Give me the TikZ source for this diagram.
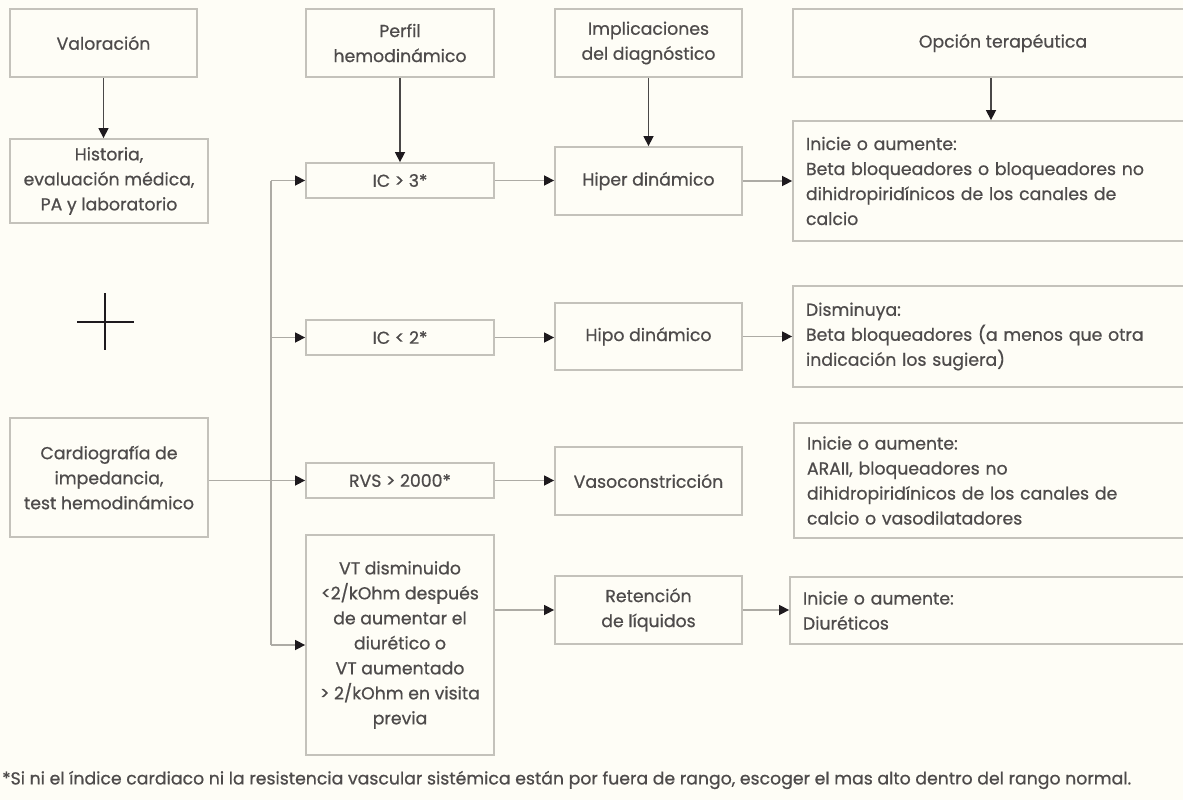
\documentclass[tikz,border=0pt]{standalone}
\usepackage{fontspec}
\setmainfont{Poppins}[FakeBold=0.7]
\usetikzlibrary{arrows.meta}
\definecolor{bgc}{HTML}{FEFDF6}
\definecolor{boxc}{HTML}{C4C2BB}
\definecolor{linec}{HTML}{ADABA5}
\definecolor{darkl}{HTML}{4A4848}
\definecolor{tipc}{HTML}{1E1A1E}
\definecolor{txtc}{HTML}{4E4B4B}
\tikzset{
  every node/.style={font=\fontsize{17.3}{25}\selectfont, text=txtc},
  box/.style={draw=boxc, line width=1.8pt, align=center, inner sep=0pt},
  tbox/.style={draw=boxc, line width=1.8pt, align=left, inner xsep=13pt, inner ysep=0pt, minimum width=420pt, text width=394pt},
  conn/.style={draw=linec, line width=1.5pt},
  arr/.style={draw=linec, line width=1.5pt, -{Triangle[length=10pt,width=10pt,color=tipc]}},
  darr/.style={draw=darkl, line width=1.5pt, -{Triangle[length=10pt,width=10pt,color=tipc]}},
}
\begin{document}
\begin{tikzpicture}[x=1pt,y=-1pt]
\fill[bgc] (0,0) rectangle (1183,800);
\useasboundingbox (0,0) rectangle (1183,800);
\clip (0,0) rectangle (1183,800);
% column 1
\node[box, minimum width=187pt, minimum height=68pt] (val) at (103.5,43) {Valoración};
\node[box, minimum width=198pt, minimum height=84pt] (hist) at (109,181) {Historia,\\evaluación médica,\\PA y laboratorio};
\node[box, minimum width=198pt, minimum height=119pt] (card) at (109,477.5) {Cardiografía de\\impedancia,\\test hemodinámico};
% column 2
\node[box, minimum width=188pt, minimum height=68pt] (perf) at (400,43) {Perfil\\hemodinámico};
\node[box, minimum width=188pt, minimum height=35pt] (ic3) at (400,180.5) {IC > 3*};
\node[box, minimum width=188pt, minimum height=35pt] (ic2) at (400,337.5) {IC < 2*};
\node[box, minimum width=188pt, minimum height=35pt] (rvs) at (400,480.5) {RVS > 2000*};
\node[box, minimum width=188pt, minimum height=220pt] (vt) at (400,645) {VT disminuido\\<2/kOhm después\\de aumentar el\\diurético o\\VT aumentado\\> 2/kOhm en visita\\previa};
% column 3
\node[box, minimum width=187pt, minimum height=68pt] (impl) at (648.5,43) {Implicaciones\\del diagnóstico};
\node[box, minimum width=187pt, minimum height=68pt] (hiper) at (648.5,181) {Hiper dinámico};
\node[box, minimum width=187pt, minimum height=67pt] (hipo) at (648.5,336.5) {Hipo dinámico};
\node[box, minimum width=187pt, minimum height=68pt] (vaso) at (648.5,481) {Vasoconstricción};
\node[box, minimum width=187pt, minimum height=68pt] (ret) at (648.5,610) {Retención\\de líquidos};
% column 4
\node[box, minimum width=420pt, minimum height=68pt] (opc) at (1003,43) {Opción terapéutica};
\node[tbox, minimum height=120pt] (t1) at (1003,181) {Inicie o aumente:\\Beta bloqueadores o bloqueadores no\\dihidropiridínicos de los canales de\\calcio};
\node[tbox, minimum height=101pt] (t2) at (1003,336.5) {Disminuya:\\Beta bloqueadores (a menos que otra\\indicación los sugiera)};
\node[tbox, minimum height=115pt] (t3) at (1004,480.5) {Inicie o aumente:\\ARAII, bloqueadores no\\dihidropiridínicos de los canales de\\calcio o vasodilatadores};
\node[tbox, minimum height=67pt] (t4) at (1000,610.5) {Inicie o aumente:\\Diuréticos};
% plus sign
\draw[draw=tipc, line width=2.6pt] (77,322) -- (134,322);
\draw[draw=tipc, line width=2.6pt] (105,293) -- (105,350);
% footnote
\node[anchor=west, inner sep=0pt] (foot) at (2,780) {*Si ni el índice cardiaco ni la resistencia vascular sistémica están por fuera de rango, escoger el mas alto dentro del rango normal.};
% vertical arrows from headers
\draw[darr] (val.south) -- (val.south |- hist.north);
\draw[darr] (perf.south) -- (ic3.north);
\draw[darr] (impl.south) -- (hiper.north);
\draw[darr] ([xshift=-12pt]opc.south) -- ([xshift=-12pt]t1.north);
% trunk
\coordinate (tx) at (271,0);
\draw[conn] (ic3.west -| tx) -- (vt.west -| tx);
\draw[arr] (ic3.west -| tx) -- (ic3.west);
\draw[arr] (ic2.west -| tx) -- (ic2.west);
\draw[arr] (vt.west -| tx) -- (vt.west);
\draw[arr] (card.east |- rvs.west) -- (rvs.west);
% horizontal arrows
\draw[arr] (ic3.east) -- (hiper.west |- ic3.east);
\draw[arr] (hiper.east) -- (t1.west |- hiper.east);
\draw[arr] (ic2.east) -- (hipo.west |- ic2.east);
\draw[arr] (hipo.east) -- (t2.west |- hipo.east);
\draw[arr] (rvs.east) -- (vaso.west |- rvs.east);
\draw[arr] (vt.east |- ret.west) -- (ret.west);
\draw[arr] (ret.east) -- (t4.west |- ret.east);
\end{tikzpicture}
\end{document}
